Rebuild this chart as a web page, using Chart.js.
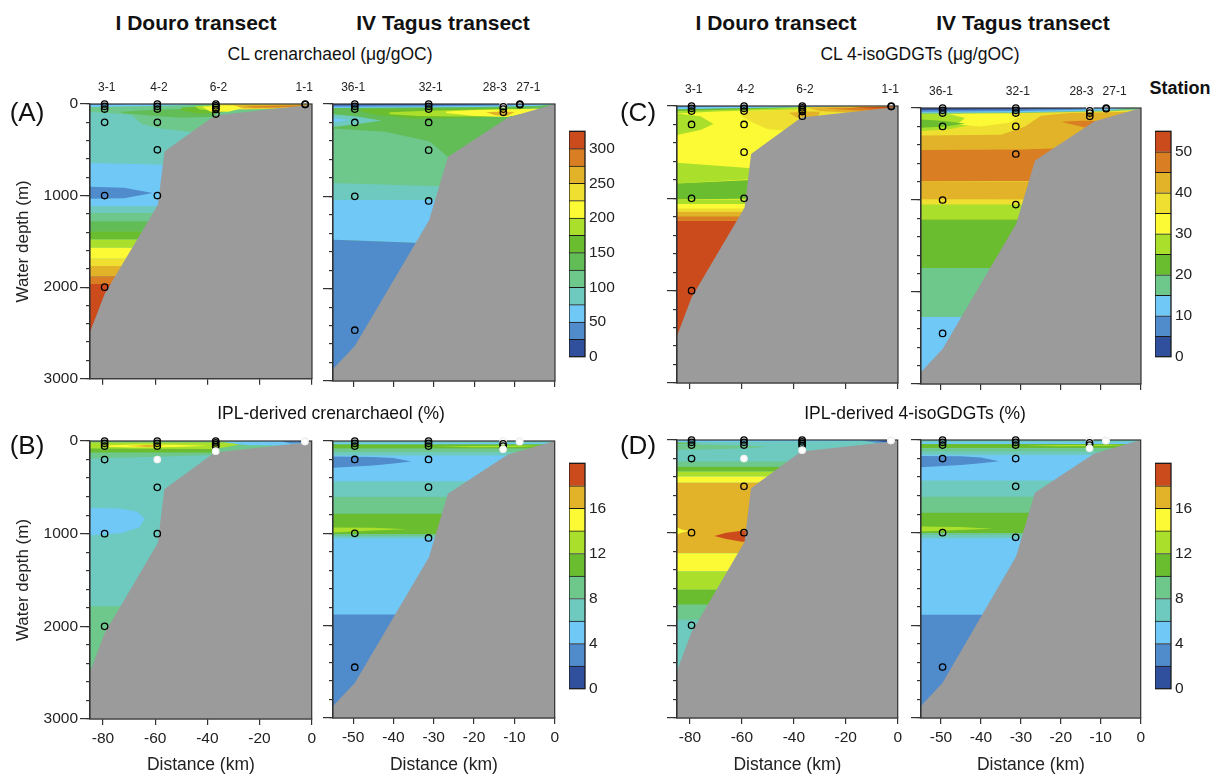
<!DOCTYPE html>
<html>
<head>
<meta charset="utf-8">
<title>Douro and Tagus transects – GDGT sections</title>
<script src="https://cdn.jsdelivr.net/npm/chart.js@4.4.1/dist/chart.umd.min.js"></script>
<style>
  html, body { margin: 0; padding: 0; background: #fff; }
  #wrap { position: relative; width: 1212px; height: 776px; overflow: hidden;
          font-family: "Liberation Sans", Arial, sans-serif; color: #111; }
  canvas { position: absolute; }
  .t { position: absolute; transform: translate(-50%, -50%); white-space: nowrap; line-height: 1; }
  .title { font-size: 21px; font-weight: bold; }
  .sub { font-size: 17.5px; }
  .tag { font-size: 26px; }
  .station { font-size: 18px; font-weight: bold; }
</style>
</head>
<body>
<div id="wrap">
  <canvas id="aD" width="320" height="320" style="left:0px;top:70px"></canvas>
  <canvas id="aT" width="242" height="321" style="left:321px;top:70px"></canvas>
  <canvas id="cD" width="241" height="323" style="left:665px;top:70px"></canvas>
  <canvas id="cT" width="240" height="324" style="left:909px;top:70px"></canvas>
  <canvas id="bD" width="320" height="356" style="left:0px;top:420px"></canvas>
  <canvas id="bT" width="242" height="356" style="left:321px;top:420px"></canvas>
  <canvas id="dD" width="241" height="356" style="left:665px;top:420px"></canvas>
  <canvas id="dT" width="240" height="356" style="left:909px;top:420px"></canvas>
  <canvas id="barA" width="60" height="252" style="left:569px;top:118px"></canvas>
  <canvas id="barC" width="57" height="252" style="left:1155px;top:118px"></canvas>
  <canvas id="barB" width="60" height="252" style="left:569px;top:450px"></canvas>
  <canvas id="barD" width="57" height="252" style="left:1155px;top:450px"></canvas>

  <div class="t title" style="left:196px;top:22px">I Douro transect</div>
  <div class="t title" style="left:443px;top:22px">IV Tagus transect</div>
  <div class="t title" style="left:776px;top:22px">I Douro transect</div>
  <div class="t title" style="left:1023px;top:22px">IV Tagus transect</div>
  <div class="t sub" style="left:330px;top:55px">CL crenarchaeol (μg/gOC)</div>
  <div class="t sub" style="left:920px;top:55px">CL 4-isoGDGTs (μg/gOC)</div>
  <div class="t sub" style="left:331px;top:414px">IPL-derived crenarchaeol (%)</div>
  <div class="t sub" style="left:915px;top:414px">IPL-derived 4-isoGDGTs (%)</div>
  <div class="t tag" style="left:27px;top:112px">(A)</div>
  <div class="t tag" style="left:27px;top:445px">(B)</div>
  <div class="t tag" style="left:638px;top:112px">(C)</div>
  <div class="t tag" style="left:638px;top:445px">(D)</div>
  <div class="t station" style="left:1180px;top:88px">Station</div>
</div>

<script>
// ---------- stations: distance from the coast (km) and sampled depths (m)
const douroStations = ['3-1', '4-2', '6-2', '1-1'];
const douroStationKm = [-79.4, -59.2, -36.8, -2.6];
const douroLabelKm = [-78.6, -58.6, -35.8, -3.0];
const douroSampleDepths = [[0, 25, 55, 200, 1000, 2000], [0, 25, 55, 200, 500, 1000], [0, 20, 40, 60, 110], [0, 6]];
const tagusStations = ['36-1', '32-1', '28-3', '27-1'];
const tagusStationKm = [-49.6, -31.3, -12.8, -8.7];
const tagusLabelKm = [-50.0, -30.8, -14.9, -6.6];
const tagusSampleDepths = [[0, 25, 55, 200, 1000, 2450], [0, 25, 55, 200, 500, 1050], [0, 30, 55, 90], [0, 8]];

// samples without a value, [station index, depth index]
const clMissingDouro = [];
const clMissingTagus = [[2, 0]];
const iplMissingDouro = [[1, 3], [2, 4], [3, 0], [3, 1]];
const iplMissingTagus = [[2, 0], [2, 3], [3, 0], [3, 1]];

// ---------- axes
const douroKmRange = [-85, 0];
const tagusKmRange = [-55, 0];
const douroKmTicks = [-80, -60, -40, -20, 0];
const tagusKmTicks = [-50, -40, -30, -20, -10, 0];
const depthRange = [0, 3000];
const depthTicks = [0, 1000, 2000, 3000];
const depthMinorStep = 200;

// ---------- bathymetry along each transect: km, m
const douroSeafloor = [-85, 2490, -79.4, 2075, -59, 1100, -56.5, 520, -37.2, 125, -2, 15, 0, 0];
const tagusSeafloor = [-55, 2870, -49.6, 2620, -31.2, 1258, -26.5, 570, -11.6, 145, 0, 0];

// ---------- contour classes (lower bound of each class) and colour-bar ticks
const crenCLLevels = [0, 25, 50, 75, 100, 125, 150, 175, 200, 225, 250, 275, 300];
const crenCLTop = 325;
const crenCLTicks = [0, 50, 100, 150, 200, 250, 300];
const isoCLLevels = [0, 5, 10, 15, 20, 25, 30, 35, 40, 45, 50];
const isoCLTop = 55;
const isoCLTicks = [0, 10, 20, 30, 40, 50];
const iplLevels = [0, 2, 4, 6, 8, 10, 12, 14, 16, 18];
const iplTop = 20;
const iplTicks = [0, 4, 8, 12, 16];

// ---------- contoured fields: [class, top m, bottom m] for a full-width layer,
// or [class, [km, m, km, m, ...]] for an outlined patch (drawn in order)
const crenCLDouro = [
  [75, 0, 3000],
  [100, [-85, 30, -42, 0, 0, 0, 0, 420, -48, 300, -58, 268, -65, 222, -69, 120, -76, 100, -85, 88]],
  [125, [-73, 85, -62, 65, -50, 55, -44, 45, -37, 50, -37, 140, -50, 150, -62, 125, -73, 95]],
  [150, [-50, 40, -43, 28, -34, 26, -30, 55, -36, 100, -44, 105, -50, 70]],
  [175, [-45, 25, -37, 14, -30, 16, -28, 45, -35, 80, -43, 60]],
  [225, [-36, 4, -20, 2, 0, 0, 0, 25, -18, 55, -27, 60, -33, 40]],
  [200, [-42, 30, -35, 18, -29, 22, -27, 48, -32, 85, -39, 82]],
  [250, [-30, 14, -15, 8, 0, 4, 0, 22, -16, 48, -26, 46]],
  [275, [-26, 26, -14, 18, -3, 13, -2, 24, -12, 36, -22, 38]],
  [50, [-85, 0, -42, 0, -50, 14, -66, 24, -85, 32]],
  [25, [-85, 0, -70, 0, -85, 10]],
  [50, [-85, 645, 0, 700, 0, 1116, -85, 1116]],
  [25, [-85, 905, -72, 915, -61, 972, -72, 1030, -85, 1035]],
  [75, 1116, 1190],
  [100, 1190, 1280],
  [125, 1280, 1390],
  [150, 1390, 1480],
  [175, 1480, 1570],
  [200, 1570, 1690],
  [225, 1690, 1770],
  [250, 1770, 1880],
  [275, 1880, 1965],
  [300, 1965, 3000]
];
const crenCLTagus = [
  [100, 0, 3000],
  [125, [-55, 38, -20, 30, -5, 20, 0, 10, 0, 640, -26.5, 575, -31, 405, -42, 300, -55, 265]],
  [75, [-55, 112, -49, 135, -43, 180, -49, 220, -55, 250]],
  [50, [-55, 150, -51, 172, -55, 200]],
  [150, [-48, 55, -40, 52, -25, 48, -8, 42, -8, 120, -20, 150, -35, 160, -44, 120, -48, 80]],
  [175, [-41, 90, -32, 72, -24, 64, -10, 55, -10, 130, -24, 135, -34, 130, -41, 110]],
  [200, [-27, 80, -20, 66, -10, 58, -4, 50, -6, 90, -12, 140, -20, 130, -27, 98]],
  [250, [-17, 88, -13, 80, -10, 86, -12, 132, -15, 120]],
  [50, [-55, 0, 0, 0, -5, 22, -20, 32, -55, 42]],
  [25, [-55, 0, -3, 0, -12, 16, -30, 24, -55, 30]],
  [0, [-55, 0, -10, 0, -30, 8, -55, 14]],
  [75, [-55, 855, 0, 930, 0, 1036, -55, 1036]],
  [50, [-55, 1036, 0, 1036, 0, 1560, -55, 1470]],
  [25, [-55, 1470, 0, 1560, 0, 3000, -55, 3000]]
];
const crenIPLDouro = [
  [6, 0, 3000],
  [8, [-85, 0, 0, 0, 0, 200, -37, 150, -85, 190]],
  [10, [-85, 72, -37, 72, -37, 125, -85, 125]],
  [12, [-85, 14, -37, 14, -30, 14, -28, 40, -37, 85, -85, 80]],
  [14, [-80, 48, -68, 38, -52, 40, -40, 52, -52, 66, -68, 70, -80, 62]],
  [16, [-71, 54, -64, 47, -56, 52, -64, 61]],
  [18, [-66, 54, -62, 50, -59, 54, -62, 58]],
  [8, [-85, 0, 0, 0, 0, 14, -85, 14]],
  [4, [-34, 8, -24, 2, -10, 0, 0, 0, -2, 25, -12, 48, -24, 45, -32, 22]],
  [2, [-12, 0, 0, 0, -2, 22, -8, 26]],
  [0, [-6, 2, 0, 0, -3, 9]],
  [4, [-85, 720, -74, 728, -67, 760, -64, 840, -66, 930, -73, 995, -85, 1018]],
  [8, 1782, 3000]
];
const crenIPLTagus = [
  [4, 0, 3000],
  [6, 0, 22],
  [10, 36, 83],
  [12, [-29.5, 60, -20, 53, -8, 50, -3, 55, -10, 64, -20, 68]],
  [8, 83, 120],
  [6, 120, 156],
  [2, [-55, 167, -45, 172, -40, 185, -35.6, 222, -40, 245, -45, 265, -55, 290]],
  [6, 435, 603],
  [8, 603, 784],
  [10, 784, 1009],
  [12, [-55, 936, -45, 940, -36.5, 956, -45, 970, -55, 991]],
  [8, 1009, 1030],
  [6, 1030, 1053],
  [2, 1880, 3000]
];
const isoCLDouro = [
  [30, 0, 3000],
  [35, [-60, 60, -50, 48, -40, 30, -35, 10, -25, 0, 0, 0, 0, 200, -43, 265, -50, 252, -56, 180, -60, 110]],
  [40, [-42, 72, -36, 60, -30, 62, -31, 120, -39, 125]],
  [40, [-35, 15, -15, 8, 0, 5, 0, 40, -20, 70, -30, 55]],
  [45, [-28, 28, -12, 20, 0, 14, 0, 35, -15, 48]],
  [50, [-18, 16, -8, 10, 0, 6, 0, 25, -10, 26]],
  [25, [-85, 80, -76, 110, -71, 195, -76, 260, -85, 314]],
  [25, [-85, 0, -30, 0, -40, 38, -70, 60, -85, 80]],
  [20, [-85, 0, -35, 0, -45, 24, -70, 44, -85, 54]],
  [10, [-85, 0, -14, 0, -40, 14, -70, 26, -85, 36]],
  [5, [-85, 0, -50, 0, -85, 14]],
  [25, [-85, 614, -55, 676, 0, 676, 0, 790, -55, 790, -85, 838]],
  [20, [-85, 838, -55, 800, 0, 800, 0, 985, -85, 1012]],
  [25, 1012, 1062],
  [30, 1062, 1110],
  [35, 1110, 1146],
  [40, 1146, 1193],
  [45, 1193, 1243],
  [50, 1243, 3000]
];
const isoCLTagus = [
  [35, 0, 3000],
  [40, [-55, 300, -35, 290, -29, 200, -25, 85, -18, 55, -8, 45, 0, 40, 0, 470, -55, 457]],
  [45, [-20, 150, -15, 138, -8, 140, -5, 150, -8, 215, -14, 212]],
  [25, [-55, 55, -45, 60, -40, 100, -42, 180, -48, 230, -55, 250]],
  [30, [-48, 65, -40, 58, -33, 62, -30, 90, -33, 160, -40, 200, -46, 180, -44, 110]],
  [20, [-55, 125, -49, 140, -44, 170, -49, 200, -55, 214]],
  [15, [-55, 0, 0, 0, 0, 15, -8, 35, -30, 55, -55, 62]],
  [10, [-55, 0, -3, 0, -8, 25, -30, 45, -55, 52]],
  [5, [-55, 0, -8, 0, -15, 18, -30, 32, -55, 40]],
  [0, [-55, 0, -12, 0, -30, 14, -55, 22]],
  [45, [-55, 457, -30, 450, -22, 440, 0, 440, 0, 800, -55, 794]],
  [40, [-55, 794, 0, 815, 0, 1000, -55, 994]],
  [35, 994, 1048],
  [25, 1048, 1212],
  [20, 1212, 1738],
  [15, 1738, 2271],
  [10, 2271, 3000]
];
const isoIPLDouro = [
  [6, 0, 3000],
  [8, [-85, 45, -72, 52, -58, 62, -50, 75, -58, 88, -72, 100, -85, 108]],
  [10, [-85, 28, -80, 30, -76, 34, -80, 38, -85, 40]],
  [4, [-85, 0, 0, 0, 0, 8, -20, 14, -60, 18, -85, 20]],
  [2, [-14, 6, -8, 4, -2, 4, -2, 30, -8, 30]],
  [0, [-8, 8, -3, 6, -3, 22, -6, 20]],
  [8, 232, 288],
  [10, 288, 341],
  [12, 341, 395],
  [14, 395, 460],
  [16, 460, 1222],
  [14, [-85, 941, -83, 968, -80, 982, -83, 998, -85, 1020]],
  [18, [-70.6, 1035, -66, 1000, -60, 980, -54, 978, -54, 1100, -60, 1097, -66, 1068]],
  [14, 1222, 1419],
  [12, 1419, 1617],
  [10, 1617, 1779],
  [8, 1779, 1940]
];
const isoIPLTagus = [
  [4, 0, 3000],
  [6, 0, 25],
  [10, 43, 90],
  [12, [-29.3, 62, -20, 55, -8, 52, -2, 55, -8, 62, -20, 68]],
  [8, 90, 126],
  [6, 126, 162],
  [2, [-55, 172, -45, 176, -40, 190, -35.5, 228, -40, 250, -45, 270, -55, 295]],
  [6, 438, 611],
  [8, 611, 783],
  [10, 783, 1006],
  [12, [-55, 934, -45, 940, -37, 958, -45, 972, -55, 988]],
  [8, 1006, 1030],
  [6, 1030, 1060],
  [2, 1886, 3000]
];

// ---------- colours
const pal = {
  dkblue: '#30509e', medblue: '#508bcb', ltblue: '#70c8f6', teal: '#6ec9be',
  ltgreen: '#6ec78b', midgreen: '#62bd57', green: '#6abd2f', ygreen: '#aadf2b',
  yellow: '#fbfa35', yellow2: '#eedf30', gold: '#e2b329', orange: '#d97e22', red: '#cc4b1d'
};
const crenCLColors = [pal.dkblue, pal.medblue, pal.ltblue, pal.teal, pal.ltgreen, pal.midgreen, pal.green,
  pal.ygreen, pal.yellow, pal.yellow2, pal.gold, pal.orange, pal.red];
const isoCLColors = [pal.dkblue, pal.medblue, pal.ltblue, pal.ltgreen, pal.green, pal.ygreen, pal.yellow,
  pal.yellow2, pal.gold, pal.orange, pal.red];
const iplColors = [pal.dkblue, pal.medblue, pal.ltblue, pal.teal, pal.ltgreen, pal.green, pal.ygreen,
  pal.yellow, pal.gold, pal.red];
const seafloorColor = '#9b9b9b';
const inkColor = '#222';
const axisColor = '#333';

Chart.defaults.font.family = '"Liberation Sans", Arial, sans-serif';
Chart.defaults.color = inkColor;

function pairs(flat) {
  const out = [];
  for (let i = 0; i < flat.length; i += 2) out.push({ x: flat[i], y: flat[i + 1] });
  return out;
}

// box around the plotting area, drawn right after the seafloor
const framePlugin = {
  id: 'sectionFrame',
  afterDatasetDraw(chart, args, opts) {
    if (args.index !== opts.after) return;
    const { ctx, chartArea: a } = chart;
    ctx.save();
    ctx.strokeStyle = axisColor;
    ctx.lineWidth = 1.2;
    ctx.strokeRect(a.left, a.top, a.right - a.left, a.bottom - a.top);
    ctx.restore();
  }
};

// station names above the upper sections, placed on the distance axis
const stationLabelPlugin = {
  id: 'stationLabels',
  afterDraw(chart, args, opts) {
    if (!opts.names) return;
    const { ctx, chartArea, scales } = chart;
    ctx.save();
    ctx.font = '12px "Liberation Sans", Arial, sans-serif';
    ctx.fillStyle = inkColor;
    ctx.textAlign = 'center';
    ctx.textBaseline = 'middle';
    opts.names.forEach((n, i) => ctx.fillText(n, scales.x.getPixelForValue(opts.km[i]), chartArea.top - 16));
    ctx.restore();
  }
};

function section(id, s) {
  const [L, R] = s.range;
  const datasets = [];
  s.field.forEach((b, i) => {
    const flat = Array.isArray(b[1]) ? b[1] : [L, b[1], R, b[1], R, b[2], L, b[2]];
    datasets.push({
      data: pairs(flat), showLine: true, fill: 'shape', tension: 0,
      backgroundColor: s.colors[s.levels.indexOf(b[0])], borderWidth: 0, pointRadius: 0,
      order: 1000 - i
    });
  });
  const floor = s.seafloor.concat([R, depthRange[1], L, depthRange[1]]);
  datasets.push({
    data: pairs(floor), showLine: true, fill: 'shape', tension: 0,
    backgroundColor: seafloorColor, borderWidth: 0, pointRadius: 0, order: 10
  });
  const floorIndex = datasets.length - 1;

  const pts = [], bg = [], bc = [];
  s.depths.forEach((list, st) => list.forEach((d, k) => {
    pts.push({ x: s.km[st], y: d });
    const miss = s.missing.some(m => m[0] === st && m[1] === k);
    bg.push(miss ? '#ffffff' : 'rgba(0,0,0,0)');
    bc.push(miss ? '#f0f0f0' : '#000000');
  }));
  datasets.push({
    data: pts, showLine: false, pointRadius: 3.2, pointBorderWidth: 1.3,
    pointBackgroundColor: bg, pointBorderColor: bc, clip: false, order: 1
  });

  const minorTicks = [];
  for (let v = depthRange[0]; v <= depthRange[1]; v += depthMinorStep) minorTicks.push({ value: v });

  new Chart(document.getElementById(id), {
    type: 'scatter',
    data: { datasets },
    options: {
      responsive: false, animation: false, events: [], devicePixelRatio: 1,
      layout: { padding: { top: s.padTop, right: 8, left: 0, bottom: 0 }, autoPadding: false },
      plugins: {
        legend: { display: false }, tooltip: { enabled: false },
        sectionFrame: { after: floorIndex },
        stationLabels: s.names ? { names: s.names, km: s.labelKm } : {}
      },
      scales: {
        x: {
          type: 'linear', position: 'bottom', min: L, max: R,
          afterBuildTicks: sc => { sc.ticks = s.xTicks.map(v => ({ value: v })); },
          afterFit: sc => { sc.height = s.xH; },
          ticks: { display: s.xLabels, font: { size: 15.5 }, color: inkColor, padding: 4,
                   maxRotation: 0, autoSkip: false, callback: v => String(v) },
          grid: { drawOnChartArea: false, drawTicks: true, tickLength: 6, color: axisColor, lineWidth: 1.2 },
          border: { display: true, color: axisColor, width: 1.2 },
          title: { display: s.xLabels, text: 'Distance (km)', font: { size: 17.5 }, color: inkColor,
                   padding: { top: 0, bottom: 0 } }
        },
        y: {
          type: 'linear', position: 'left', min: depthRange[0], max: depthRange[1], reverse: true, weight: 1,
          afterBuildTicks: sc => { sc.ticks = depthTicks.map(v => ({ value: v })); },
          afterFit: sc => { sc.width = s.yW; },
          ticks: { display: s.yLabels, font: { size: 15.5 }, color: inkColor, padding: 2, callback: v => String(v) },
          grid: { drawOnChartArea: false, drawTicks: true, tickLength: 10, color: axisColor, lineWidth: 1.2 },
          border: { display: true, color: axisColor, width: 1.2 },
          title: { display: s.yLabels, text: 'Water depth (m)', font: { size: 17 }, color: inkColor,
                   padding: { top: 13, bottom: 0 } }
        },
        yMinor: {
          type: 'linear', position: 'left', min: depthRange[0], max: depthRange[1], reverse: true, weight: 0,
          afterBuildTicks: sc => { sc.ticks = minorTicks.slice(); },
          afterFit: sc => { sc.width = 0; },
          ticks: { display: false },
          grid: { drawOnChartArea: false, drawTicks: true, tickLength: 4, color: axisColor, lineWidth: 1.2 },
          border: { display: false }
        }
      }
    },
    plugins: [framePlugin, stationLabelPlugin]
  });
}

const douro = { range: douroKmRange, xTicks: douroKmTicks, seafloor: douroSeafloor, km: douroStationKm,
  labelKm: douroLabelKm, depths: douroSampleDepths };
const tagus = { range: tagusKmRange, xTicks: tagusKmTicks, seafloor: tagusSeafloor, km: tagusStationKm,
  labelKm: tagusLabelKm, depths: tagusSampleDepths };

// upper row: core lipids
section('aD', Object.assign({}, douro, { field: crenCLDouro, levels: crenCLLevels, colors: crenCLColors,
  missing: clMissingDouro, names: douroStations, padTop: 34, yW: 90, xH: 10, xLabels: false, yLabels: true }));
section('aT', Object.assign({}, tagus, { field: crenCLTagus, levels: crenCLLevels, colors: crenCLColors,
  missing: clMissingTagus, names: tagusStations, padTop: 34, yW: 12, xH: 10, xLabels: false, yLabels: false }));
section('cD', Object.assign({}, douro, { field: isoCLDouro, levels: isoCLLevels, colors: isoCLColors,
  missing: clMissingDouro, names: douroStations, padTop: 36, yW: 12, xH: 10, xLabels: false, yLabels: false }));
section('cT', Object.assign({}, tagus, { field: isoCLTagus, levels: isoCLLevels, colors: isoCLColors,
  missing: clMissingTagus, names: tagusStations, padTop: 38, yW: 12, xH: 10, xLabels: false, yLabels: false }));
// lower row: IPL-derived fractions
section('bD', Object.assign({}, douro, { field: crenIPLDouro, levels: iplLevels, colors: iplColors,
  missing: iplMissingDouro, names: null, padTop: 21, yW: 90, xH: 57, xLabels: true, yLabels: true }));
section('bT', Object.assign({}, tagus, { field: crenIPLTagus, levels: iplLevels, colors: iplColors,
  missing: iplMissingTagus, names: null, padTop: 21, yW: 12, xH: 58, xLabels: true, yLabels: false }));
section('dD', Object.assign({}, douro, { field: isoIPLDouro, levels: iplLevels, colors: iplColors,
  missing: iplMissingDouro, names: null, padTop: 20, yW: 12, xH: 58, xLabels: true, yLabels: false }));
section('dT', Object.assign({}, tagus, { field: isoIPLTagus, levels: iplLevels, colors: iplColors,
  missing: iplMissingTagus, names: null, padTop: 20, yW: 12, xH: 58, xLabels: true, yLabels: false }));

// colour bars: one stacked bar, one segment per class
const barFrame = {
  id: 'barFrame',
  afterDraw(chart) {
    const { ctx, chartArea: a } = chart;
    ctx.save();
    ctx.strokeStyle = '#1a1a1a';
    ctx.lineWidth = 1.3;
    ctx.strokeRect(a.left, a.top, a.right - a.left, a.bottom - a.top);
    ctx.restore();
  }
};
function colourBar(id, levels, colors, top, ticks, axisW) {
  new Chart(document.getElementById(id), {
    type: 'bar',
    data: {
      labels: [''],
      datasets: levels.map((lv, i) => ({
        data: [(i + 1 < levels.length ? levels[i + 1] : top) - lv],
        backgroundColor: colors[i], borderColor: '#1a1a1a',
        borderWidth: { top: 1, right: 0, bottom: 0, left: 0 }, borderSkipped: false,
        barPercentage: 1, categoryPercentage: 1
      }))
    },
    options: {
      responsive: false, animation: false, events: [], devicePixelRatio: 1,
      layout: { padding: { top: 10, bottom: 10, left: 0, right: 0 }, autoPadding: false },
      plugins: { legend: { display: false }, tooltip: { enabled: false } },
      scales: {
        x: { display: false, stacked: true },
        y: {
          stacked: true, position: 'right', min: 0, max: top,
          afterBuildTicks: sc => { sc.ticks = ticks.map(v => ({ value: v })); },
          afterFit: sc => { sc.width = axisW; },
          ticks: { padding: 4, font: { size: 15.5 }, color: inkColor, callback: v => String(v) },
          grid: { display: false, drawTicks: false },
          border: { display: false }
        }
      }
    },
    plugins: [barFrame]
  });
}
colourBar('barA', crenCLLevels, crenCLColors, crenCLTop, crenCLTicks, 44);
colourBar('barC', isoCLLevels, isoCLColors, isoCLTop, isoCLTicks, 41);
colourBar('barB', iplLevels, iplColors, iplTop, iplTicks, 44);
colourBar('barD', iplLevels, iplColors, iplTop, iplTicks, 41);
</script>
</body>
</html>
